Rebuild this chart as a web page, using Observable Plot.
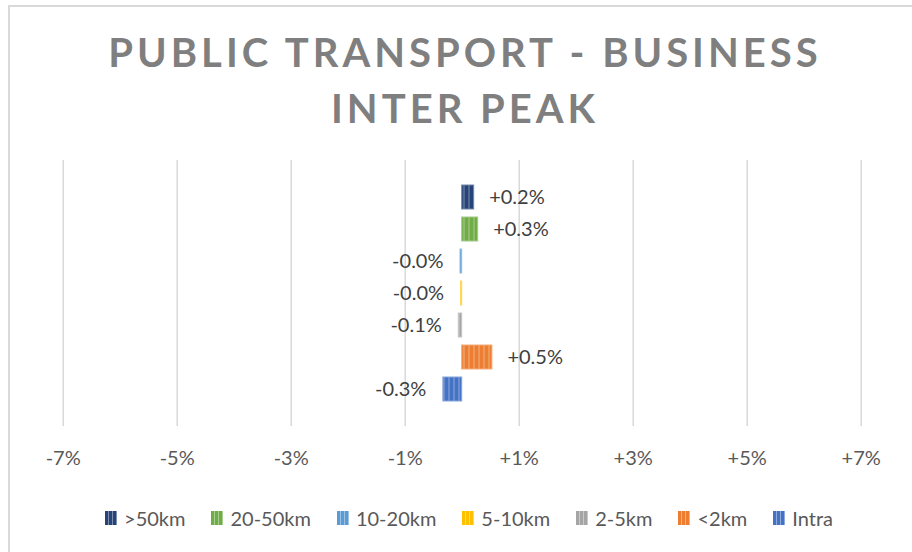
<!DOCTYPE html>
<html>
<head>
<meta charset="utf-8">
<script src="https://cdn.jsdelivr.net/npm/d3@7"></script>
<script src="https://cdn.jsdelivr.net/npm/@observablehq/plot@0.6"></script>
<style>
  html, body { margin: 0; padding: 0; background: #fff; }
  body { width: 912px; height: 552px; position: relative; overflow: hidden; font-family: Lato, "Open Sans", sans-serif; }
  #frame { position: absolute; left: 8px; top: 5px; width: 920px; height: 560px; border: 2px solid #d9d9d9; box-sizing: border-box; }
  #title { position: absolute; left: 0; top: 24px; width: 930px; text-align: center; font-weight: 700; font-size: 40px; line-height: 56px; letter-spacing: 4px; color: #7f7f7f; }
  #chart { position: absolute; left: 0; top: 150px; }
  #legend { position: absolute; left: 0; top: 505px; width: 938px; display: flex; justify-content: center; gap: 26px; font-size: 20px; color: #595959; line-height: 26px; }
  .item { display: flex; align-items: center; gap: 7px; }
  .sw { width: 12px; height: 14px; display: inline-block; box-sizing: border-box; }
</style>
</head>
<body>
<div id="frame"></div>
<div id="title">PUBLIC TRANSPORT - BUSINESS<br>INTER PEAK</div>
<div id="chart"></div>
<div id="legend"></div>
<script>
// Categories (top to bottom as drawn) and their values (% change)
const categories = [">50km", "20-50km", "10-20km", "5-10km", "2-5km", "<2km", "Intra"];
const values = [0.21, 0.28, -0.03, -0.02, -0.06, 0.53, -0.33];
const colors = ["#264478", "#70ad47", "#5b9bd5", "#ffc000", "#a5a5a5", "#ed7d31", "#4472c4"];
const xTicks = [-7, -5, -3, -1, 1, 3, 5, 7];

const fmtPct = v => (v > 0 ? "+" : (v < 0 ? "-" : "")) + Math.abs(v).toFixed(1) + "%";
const fmtTick = v => (v > 0 ? "+" : (v < 0 ? "-" : "")) + Math.abs(v) + "%";

const lighten = (c, k) => d3.interpolateRgb(c, "#ffffff")(k);

const data = categories.map((c, i) => ({cat: c, value: values[i], idx: i}));

const svg = Plot.plot({
  width: 912,
  height: 320,
  marginTop: 10,
  marginBottom: 44,
  marginLeft: 62.7,
  marginRight: 51.3,
  style: {fontFamily: "Lato, 'Open Sans', sans-serif", fontSize: "20px", color: "#595959", background: "transparent"},
  x: {domain: [-7, 7], ticks: xTicks, tickFormat: fmtTick, label: null},
  y: {domain: categories, paddingInner: 0.26, paddingOuter: 0.74, axis: null, label: null},
  color: {type: "identity"},
  marks: [
    Plot.gridX(xTicks, {stroke: "#d9d9d9", strokeOpacity: 1, strokeWidth: 1.5}),
    Plot.axisX({ticks: xTicks, tickFormat: fmtTick, tickSize: 0, tickPadding: 24, label: null, fill: "#595959", fontSize: 20}),
    Plot.barX(data, {
      y: "cat", x1: 0, x2: "value",
      fill: d => `url(#stripe${d.idx})`,
      stroke: d => lighten(colors[d.idx], 0.35),
      strokeWidth: 1
    }),
    Plot.text(data.filter(d => d.value > 0), {
      y: "cat", x: "value", text: d => fmtPct(d.value),
      textAnchor: "start", dx: 15, fill: "#404040", fontSize: 20
    }),
    Plot.text(data.filter(d => d.value <= 0), {
      y: "cat", x: "value", text: d => fmtPct(d.value),
      textAnchor: "end", dx: -17, fill: "#404040", fontSize: 20
    })
  ]
});

// striped patterns for bars
const ns = "http://www.w3.org/2000/svg";
const defs = document.createElementNS(ns, "defs");
colors.forEach((c, i) => {
  const p = document.createElementNS(ns, "pattern");
  p.setAttribute("id", "stripe" + i);
  p.setAttribute("patternUnits", "userSpaceOnUse");
  p.setAttribute("width", "5");
  p.setAttribute("height", "10");
  const r = document.createElementNS(ns, "rect");
  r.setAttribute("width", "5"); r.setAttribute("height", "10"); r.setAttribute("fill", c);
  const l = document.createElementNS(ns, "rect");
  l.setAttribute("x", "3.5"); l.setAttribute("width", "1"); l.setAttribute("height", "10");
  l.setAttribute("fill", lighten(c, 0.4));
  p.appendChild(r); p.appendChild(l);
  defs.appendChild(p);
});
svg.insertBefore(defs, svg.firstChild);
document.getElementById("chart").appendChild(svg);

// legend
const legend = document.getElementById("legend");
categories.forEach((c, i) => {
  const item = document.createElement("span");
  item.className = "item";
  const sw = document.createElement("span");
  sw.className = "sw";
  const lc = lighten(colors[i], 0.4);
  sw.style.background = `repeating-linear-gradient(90deg, ${colors[i]} 0px, ${colors[i]} 3px, ${lc} 3px, ${lc} 4px)`;
  const t = document.createElement("span");
  t.textContent = c;
  item.appendChild(sw); item.appendChild(t);
  legend.appendChild(item);
});
</script>
</body>
</html>
